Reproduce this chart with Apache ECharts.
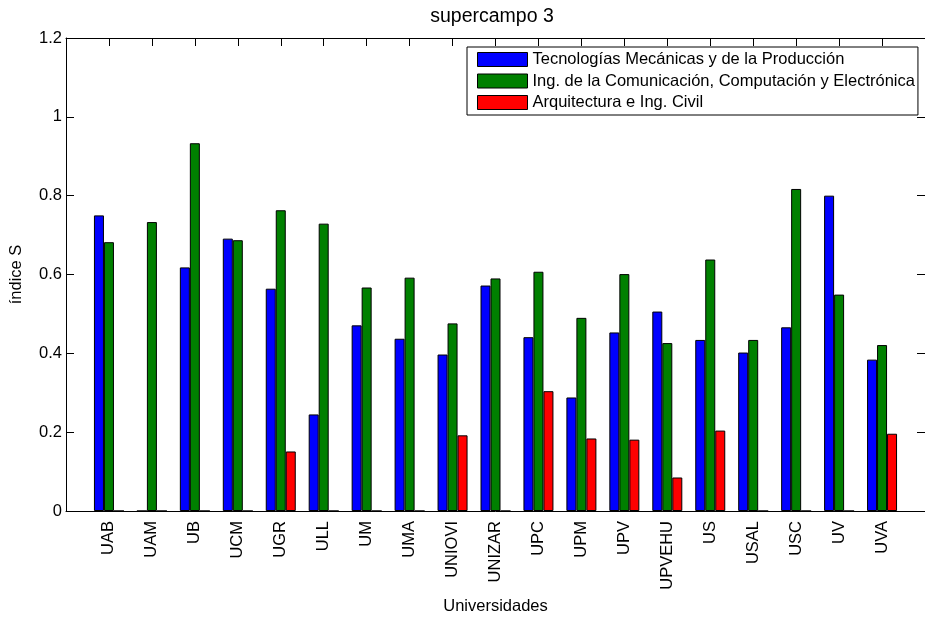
<!DOCTYPE html>
<html>
<head>
<meta charset="utf-8">
<script src="https://cdn.jsdelivr.net/npm/echarts@6/dist/echarts.min.js"></script>
<style>html,body{margin:0;padding:0;background:#fff}#c{width:925px;height:621px}</style>
</head>
<body>
<div id="c"></div>
<script>
const categories = ['UAB','UAM','UB','UCM','UGR','ULL','UM','UMA','UNIOVI','UNIZAR','UPC','UPM','UPV','UPVEHU','US','USAL','USC','UV','UVA'];
const seriesNames = ['Tecnologías Mecánicas y de la Producción','Ing. de la Comunicación, Computación y Electrónica','Arquitectura e Ing. Civil'];
const tecnologias = [0.750,0,0.618,0.691,0.564,0.245,0.471,0.437,0.397,0.572,0.441,0.288,0.453,0.506,0.434,0.402,0.466,0.800,0.384];
const comunicacion = [0.682,0.733,0.933,0.687,0.763,0.729,0.567,0.592,0.476,0.590,0.607,0.490,0.601,0.426,0.638,0.434,0.817,0.549,0.421];
const arquitectura = [0,0,0,0,0.151,0,0,0,0.192,0,0.304,0.184,0.181,0.085,0.204,0,0,0,0.196];
const yTicks = {min:0, max:1.2, interval:0.2};
const colors = ['#0000ff','#008000','#ff0000'];

const FONT = "'Liberation Sans', Arial, Helvetica, sans-serif";
// pad one empty slot on each side (axis runs from 0 to 20 like the original)
const xData = [''].concat(categories, ['']);
const pad = arr => [null].concat(arr, [null]);
const values = [tecnologias, comunicacion, arquitectura];

const chart = echarts.init(document.getElementById('c'), null, {renderer:'canvas'});
chart.setOption({
  animation:false,
  backgroundColor:'#fff',
  textStyle:{fontFamily:FONT},
  title:{text:'supercampo 3', left:492, top:7, padding:0, textAlign:'center', textVerticalAlign:'top',
    textStyle:{fontFamily:FONT, fontSize:19.5, fontWeight:'normal', color:'#000'}},
  legend:{orient:'vertical', left:467, top:47, padding:[4,3,4,10], itemGap:4.5,
    itemWidth:50, itemHeight:14, icon:'rect', borderColor:'#000', borderWidth:1, backgroundColor:'#fff',
    textStyle:{fontFamily:FONT, fontSize:16.5, color:'#000', lineHeight:16.5},
    itemStyle:{borderColor:'#000', borderWidth:1},
    data:seriesNames, selectedMode:false},
  grid:{left:65, top:38, width:861, height:473, containLabel:false},
  xAxis:[
    {type:'category', data:xData, boundaryGap:false, position:'bottom',
     axisLine:{onZero:false, lineStyle:{color:'#000', width:1}},
     axisTick:{inside:true, length:8, interval:0, lineStyle:{color:'#000'}},
     axisLabel:{rotate:90, interval:0, margin:10, fontFamily:FONT, fontSize:16.5, color:'#000'},
     splitLine:{show:false},
     name:'Universidades', nameLocation:'middle', nameGap:87,
     nameTextStyle:{fontFamily:FONT, fontSize:16.5, color:'#000'}},
    {type:'category', data:xData, boundaryGap:false, position:'top',
     axisLine:{onZero:false, lineStyle:{color:'#000', width:1}},
     axisTick:{inside:true, length:8, interval:0, lineStyle:{color:'#000'}},
     axisLabel:{show:false}, splitLine:{show:false}}
  ],
  yAxis:[
    {type:'value', min:yTicks.min, max:yTicks.max, interval:yTicks.interval, position:'left',
     axisLine:{show:true, onZero:false, lineStyle:{color:'#000', width:1}},
     axisTick:{show:true, inside:true, length:8, lineStyle:{color:'#000'}},
     axisLabel:{margin:4, fontFamily:FONT, fontSize:16.5, color:'#000'},
     splitLine:{show:false},
     name:'índice S', nameLocation:'middle', nameRotate:90, nameGap:41,
     nameTextStyle:{fontFamily:FONT, fontSize:16.5, color:'#000'}},
    {type:'value', min:yTicks.min, max:yTicks.max, interval:yTicks.interval, position:'right',
     axisLine:{show:true, onZero:false, lineStyle:{color:'#000', width:1}},
     axisTick:{show:true, inside:true, length:8, lineStyle:{color:'#000'}},
     axisLabel:{show:false}, splitLine:{show:false}}
  ],
  series: values.map((v,i)=>({
    name:seriesNames[i], type:'bar', xAxisIndex:0, yAxisIndex:0,
    data:pad(v), barWidth:10, barGap:'0%',
    itemStyle:{color:colors[i], borderColor:'#000', borderWidth:1}
  }))
});
</script>
</body>
</html>
